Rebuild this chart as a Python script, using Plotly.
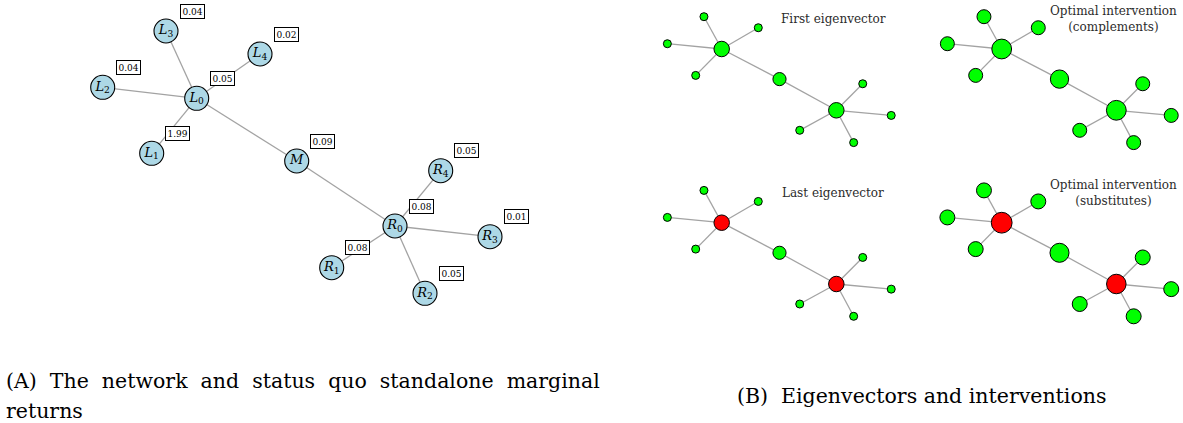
import plotly.graph_objects as go

W, H = 1183, 423
SERIF = "DejaVu Serif, Liberation Serif, serif"

# ---------------- data ----------------
node_names = ["L0", "L1", "L2", "L3", "L4", "M", "R0", "R1", "R2", "R3", "R4"]
node_labels = ["<i>L</i><sub>0</sub>", "<i>L</i><sub>1</sub>", "<i>L</i><sub>2</sub>",
               "<i>L</i><sub>3</sub>", "<i>L</i><sub>4</sub>", "<i>M</i>",
               "<i>R</i><sub>0</sub>", "<i>R</i><sub>1</sub>", "<i>R</i><sub>2</sub>",
               "<i>R</i><sub>3</sub>", "<i>R</i><sub>4</sub>"]
# network layout coordinates (L0 at origin)
layout_x = [0.0, -0.45, -0.94, -0.307, 0.633, 1.0, 1.983, 1.35, 2.283, 2.933, 2.44]
layout_y = [0.0, -0.55, 0.11, 0.673, 0.443, -0.627, -1.277, -1.694, -1.95, -1.384, -0.724]
edges = [("L0", "L1"), ("L0", "L2"), ("L0", "L3"), ("L0", "L4"), ("L0", "M"),
         ("M", "R0"), ("R0", "R1"), ("R0", "R2"), ("R0", "R3"), ("R0", "R4")]

# status quo standalone marginal returns
marginal_returns = [0.05, 1.99, 0.04, 0.04, 0.02, 0.09, 0.08, 0.08, 0.05, 0.01, 0.05]

# eigenvectors and interventions (sign -> colour, magnitude -> size)
first_eigenvector = [0.50, 0.204, 0.204, 0.204, 0.204, 0.408, 0.50, 0.204, 0.204, 0.204, 0.204]
last_eigenvector = [-0.50, 0.204, 0.204, 0.204, 0.204, 0.408, -0.50, 0.204, 0.204, 0.204, 0.204]
interv_complements = [0.67, 0.44, 0.44, 0.44, 0.44, 0.61, 0.67, 0.44, 0.44, 0.44, 0.44]
interv_substitutes = [-0.71, 0.48, 0.48, 0.48, 0.48, 0.64, -0.66, 0.48, 0.48, 0.48, 0.48]

panel_titles = ["First eigenvector", "Optimal intervention<br>(complements)",
                "Last eigenvector", "Optimal intervention<br>(substitutes)"]
GAP = " \u00a0"
caption_a = [GAP.join(["(A)", "The", "network", "and", "status", "quo", "standalone", "marginal"]),
             "returns"]
caption_b = "(B)" + GAP + "Eigenvectors and interventions"

# ---------------- helpers ----------------
idx = {n: i for i, n in enumerate(node_names)}


def edge_xy():
    xs, ys = [], []
    for a, b in edges:
        xs += [layout_x[idx[a]], layout_x[idx[b]], None]
        ys += [layout_y[idx[a]], layout_y[idx[b]], None]
    return xs, ys


def axes_for(dom_x, dom_y, anchor, scale):
    xr = [(dom_x[0] - anchor[0]) / scale[0], (dom_x[1] - anchor[0]) / scale[0]]
    yr = [(anchor[1] - dom_y[1]) / scale[1], (anchor[1] - dom_y[0]) / scale[1]]
    xd = [dom_x[0] / W, dom_x[1] / W]
    yd = [1 - dom_y[1] / H, 1 - dom_y[0] / H]
    ax = dict(range=xr, domain=xd, visible=False, fixedrange=True)
    ay = dict(range=yr, domain=yd, visible=False, fixedrange=True)
    return ax, ay


def P(px, py):
    return px / W, 1 - py / H


fig = go.Figure()
ex, ey = edge_xy()
EDGE = dict(color="#a3a3a3", width=1.3)

# ---------------- panel A ----------------
fig.add_trace(go.Scatter(x=ex, y=ey, mode="lines", line=EDGE,
                         hoverinfo="skip", xaxis="x", yaxis="y", cliponaxis=False))
fig.add_trace(go.Scatter(x=layout_x, y=layout_y, mode="markers+text", text=node_labels,
                         textposition="middle center",
                         textfont=dict(family=SERIF, size=13, color="black"),
                         marker=dict(size=24, color="#add8e6", opacity=1,
                                     line=dict(color="black", width=1.1)),
                         xaxis="x", yaxis="y", cliponaxis=False, hoverinfo="skip"))

annotations = []
for i, v in enumerate(marginal_returns):
    annotations.append(dict(x=layout_x[i], y=layout_y[i], xref="x", yref="y",
                            xshift=26, yshift=20, text=f"{v:.2f}", showarrow=False,
                            font=dict(family=SERIF, size=9, color="black"),
                            bgcolor="white", bordercolor="black", borderwidth=1, borderpad=1.5))

# ---------------- panel B ----------------
panels = [
    (first_eigenvector, (615, 900), (0, 168), (721.7, 49)),
    (interv_complements, (900, 1183), (0, 168), (1001.7, 49)),
    (last_eigenvector, (615, 900), (168, 335), (721.7, 222.7)),
    (interv_substitutes, (900, 1183), (168, 335), (1001.7, 222.7)),
]
title_pos = [(833, 19), (1113.3, 18.7), (833.3, 193.3), (1113.3, 193.3)]
layout_axes = {}
ax0, ay0 = axes_for((0, 600), (0, 330), (196.7, 98.3), (100, 100))
layout_axes["xaxis"] = ax0
layout_axes["yaxis"] = ay0

for k, (vals, dx, dy, anc) in enumerate(panels):
    n = k + 2
    ax, ay = axes_for(dx, dy, anc, (57.8, 48))
    ax["anchor"] = f"y{n}"
    ay["anchor"] = f"x{n}"
    layout_axes[f"xaxis{n}"] = ax
    layout_axes[f"yaxis{n}"] = ay
    sizes = [2.84 + 25.3 * abs(v) for v in vals]
    colors = ["#ff0000" if v < 0 else "#00ff00" for v in vals]
    fig.add_trace(go.Scatter(x=ex, y=ey, mode="lines", line=EDGE,
                             hoverinfo="skip", xaxis=f"x{n}", yaxis=f"y{n}", cliponaxis=False))
    fig.add_trace(go.Scatter(x=layout_x, y=layout_y, mode="markers",
                             marker=dict(size=sizes, color=colors, opacity=1,
                                         line=dict(color="black", width=1)),
                             xaxis=f"x{n}", yaxis=f"y{n}", cliponaxis=False, hoverinfo="skip"))
    tx, ty = P(*title_pos[k])
    annotations.append(dict(x=tx, y=ty, xref="paper", yref="paper", text=panel_titles[k],
                            showarrow=False, xanchor="center", yanchor="middle", align="center",
                            font=dict(family=SERIF, size=12, color="#2b2b2b")))

# ---------------- captions ----------------
CAP_FONT = dict(family=SERIF, size=20.5, color="black")
cx, cy = P(4, 381)
annotations.append(dict(x=cx, y=cy, xref="paper", yref="paper", text=caption_a[0], showarrow=False,
                        xanchor="left", yanchor="middle", font=CAP_FONT))
cx, cy = P(4, 411)
annotations.append(dict(x=cx, y=cy, xref="paper", yref="paper", text=caption_a[1], showarrow=False,
                        xanchor="left", yanchor="middle", font=CAP_FONT))
cx, cy = P(735, 396)
annotations.append(dict(x=cx, y=cy, xref="paper", yref="paper", text=caption_b, showarrow=False,
                        xanchor="left", yanchor="middle", font=CAP_FONT))

fig.update_layout(width=W, height=H, margin=dict(l=0, r=0, t=0, b=0),
                  paper_bgcolor="white", plot_bgcolor="rgba(0,0,0,0)",
                  showlegend=False, annotations=annotations, **layout_axes)

fig.write_html("out.html", config={"displayModeBar": False},
               post_script="document.body.style.margin='0';")
